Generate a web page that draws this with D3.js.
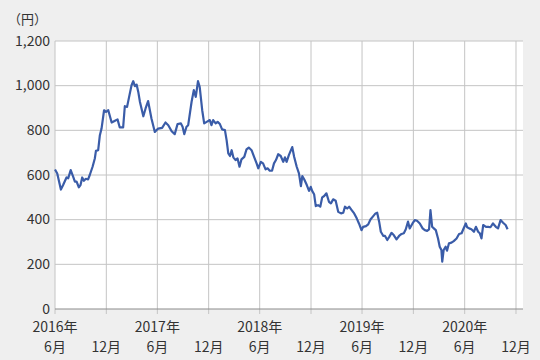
<!DOCTYPE html>
<html>
<head>
<meta charset="utf-8">
<script src="https://cdn.jsdelivr.net/npm/d3@7"></script>
<style>
    body { margin: 0; background: #efefef; }
    svg { display: block; font-family: "Noto Sans CJK JP", "Noto Sans", sans-serif; }
</style>
</head>
<body>
<div id="chart"></div>
<script>
// dates (approx. weekly closes)
var dates = [
    "2016-06-01","2016-06-09","2016-06-22","2016-06-30","2016-07-12","2016-07-18","2016-07-27","2016-08-05",
    "2016-08-11","2016-08-17","2016-08-25","2016-08-31","2016-09-06","2016-09-12","2016-09-19","2016-09-27",
    "2016-10-03","2016-10-13","2016-10-21","2016-10-25","2016-11-02","2016-11-08","2016-11-14","2016-11-23",
    "2016-11-30","2016-12-08","2016-12-20","2017-01-01","2017-01-10","2017-01-18","2017-01-30","2017-02-05",
    "2017-02-13","2017-02-22","2017-03-01","2017-03-07","2017-03-13","2017-03-19","2017-03-25","2017-03-31",
    "2017-04-12","2017-04-20","2017-04-29","2017-05-11","2017-05-23","2017-06-04","2017-06-18","2017-06-30",
    "2017-07-10","2017-07-22","2017-08-02","2017-08-12","2017-08-24","2017-08-30","2017-09-05","2017-09-13",
    "2017-09-19","2017-10-01","2017-10-09","2017-10-16","2017-10-24","2017-10-30","2017-11-08","2017-11-15",
    "2017-11-24","2017-12-05","2017-12-11","2017-12-17","2017-12-26","2018-01-02","2018-01-10","2018-01-18",
    "2018-01-28","2018-02-03","2018-02-09","2018-02-15","2018-02-21","2018-02-27","2018-03-07","2018-03-14",
    "2018-03-21","2018-03-28","2018-04-07","2018-04-15","2018-04-23","2018-05-03","2018-05-12","2018-05-21",
    "2018-05-27","2018-06-05","2018-06-13","2018-06-22","2018-06-29","2018-07-07","2018-07-15","2018-07-22",
    "2018-07-29","2018-08-06","2018-08-15","2018-08-24","2018-08-30","2018-09-05","2018-09-13","2018-09-25",
    "2018-10-02","2018-10-11","2018-10-19","2018-10-26","2018-10-31","2018-11-07","2018-11-16","2018-11-24",
    "2018-11-30","2018-12-05","2018-12-12","2018-12-18","2018-12-26","2019-01-03","2019-01-10","2019-01-17",
    "2019-01-25","2019-02-03","2019-02-10","2019-02-18","2019-02-27","2019-03-08","2019-03-18","2019-03-26",
    "2019-04-01","2019-04-09","2019-04-16","2019-04-25","2019-05-04","2019-05-13","2019-05-21","2019-05-30",
    "2019-06-05","2019-06-15","2019-06-23","2019-07-01","2019-07-11","2019-07-19","2019-07-25","2019-08-01",
    "2019-08-07","2019-08-16","2019-08-22","2019-08-30","2019-09-06","2019-09-14","2019-09-22","2019-10-02",
    "2019-10-11","2019-10-20","2019-10-28","2019-11-04","2019-11-12","2019-11-18","2019-11-28","2019-12-06",
    "2019-12-14","2019-12-24","2020-01-03","2020-01-11","2020-01-19","2020-01-26","2020-01-31","2020-02-06",
    "2020-02-12","2020-02-19","2020-02-27","2020-03-04","2020-03-10","2020-03-13","2020-03-18","2020-03-25",
    "2020-03-30","2020-04-06","2020-04-15","2020-04-23","2020-05-03","2020-05-12","2020-05-21","2020-05-27",
    "2020-06-05","2020-06-10","2020-06-17","2020-06-25","2020-07-04","2020-07-11","2020-07-19","2020-07-25",
    "2020-07-31","2020-08-06","2020-08-16","2020-08-24","2020-09-01","2020-09-10","2020-09-20","2020-09-28",
    "2020-10-07","2020-10-16","2020-10-25","2020-11-01"
];

// price in yen
var prices = [
    625, 607, 535, 555, 589, 585, 622, 592,
    570, 570, 545, 555, 589, 574, 583, 580,
    600, 637, 674, 708, 711, 778, 808, 890,
    883, 890, 835, 843, 849, 813, 813, 908,
    905, 960, 1002, 1020, 998, 1005, 972, 927,
    863, 898, 931, 853, 793, 808, 811, 835,
    823, 796, 783, 828, 831, 816, 783, 816,
    823, 927, 980, 950, 1020, 995, 890, 831,
    838, 846, 823, 846, 831, 838, 828, 804,
    801, 756, 697, 685, 711, 679, 667, 674,
    637, 670, 681, 715, 723, 711, 681, 652,
    630, 659, 652, 625, 630, 619, 619, 652,
    667, 693, 685, 659, 679, 659, 689, 725,
    681, 637, 607, 550, 595, 580, 555, 529,
    547, 529, 514, 461, 465, 458, 500, 506,
    518, 480, 473, 491, 485, 435, 428, 431,
    458, 450, 458, 443, 428, 406, 383, 353,
    368, 371, 379, 401, 416, 428, 431, 391,
    346, 327, 327, 309, 323, 341, 331, 312,
    327, 336, 339, 357, 391, 361, 383, 398,
    395, 383, 361, 353, 350, 357, 443, 368,
    361, 353, 316, 279, 264, 212, 264, 279,
    261, 294, 297, 304, 316, 336, 339, 357,
    383, 366, 361, 357, 346, 368, 346, 339,
    316, 376, 368, 368, 366, 383, 368, 361,
    398, 386, 376, 357
];

var yTicks = [0, 200, 400, 600, 800, 1000, 1200];

var width = 540, height = 360;
var plot = { left: 55, right: 523, top: 41, bottom: 309 };
var parse = d3.timeParse("%Y-%m-%d");

var data = dates.map(function (d, i) {
    return { date: parse(d), value: prices[i] };
});

var svg = d3.select("#chart").append("svg")
    .attr("width", width)
    .attr("height", height);

svg.append("rect")
    .attr("width", width)
    .attr("height", height)
    .attr("fill", "#efefef");

var x = d3.scaleTime()
    .domain([parse("2016-06-01"), parse("2020-12-26")])
    .range([plot.left, plot.right]);

var y = d3.scaleLinear()
    .domain([0, 1200])
    .range([plot.bottom, plot.top]);

// white plot area
svg.append("rect")
    .attr("x", plot.left)
    .attr("y", plot.top)
    .attr("width", plot.right - plot.left)
    .attr("height", plot.bottom - plot.top)
    .attr("fill", "#fff");

// tick every six months (June / December)
var xTicks = d3.timeMonth.range(parse("2016-06-01"), parse("2020-12-02"), 6);

// vertical gridlines, running a bit below the axis as tick marks
svg.append("g")
    .selectAll("line")
    .data(xTicks)
    .enter()
    .append("line")
    .attr("x1", function (d) { return x(d); })
    .attr("x2", function (d) { return x(d); })
    .attr("y1", plot.top)
    .attr("y2", plot.bottom + 5)
    .attr("stroke", "#c4c4c4")
    .attr("stroke-width", 1);

// horizontal gridlines
svg.append("g")
    .selectAll("line")
    .data(yTicks.slice(1))
    .enter()
    .append("line")
    .attr("x1", plot.left)
    .attr("x2", plot.right)
    .attr("y1", function (d) { return y(d); })
    .attr("y2", function (d) { return y(d); })
    .attr("stroke", "#c4c4c4")
    .attr("stroke-width", 1);

// zero line
svg.append("line")
    .attr("x1", plot.left)
    .attr("x2", plot.right)
    .attr("y1", y(0))
    .attr("y2", y(0))
    .attr("stroke", "#8c8c8c")
    .attr("stroke-width", 1.2);

// y labels
svg.append("g")
    .selectAll("text")
    .data(yTicks)
    .enter()
    .append("text")
    .attr("x", plot.left - 5)
    .attr("y", function (d) { return y(d); })
    .attr("dy", "0.34em")
    .attr("text-anchor", "end")
    .attr("font-size", 14)
    .attr("fill", "#333")
    .text(function (d) { return d3.format(",")(d); });

svg.append("text")
    .attr("x", 8)
    .attr("y", 24)
    .attr("font-size", 13)
    .attr("fill", "#333")
    .text("（円）");

// x labels: year on first line for June, month on second line
var xl = svg.append("g")
    .selectAll("g")
    .data(xTicks)
    .enter()
    .append("g")
    .attr("transform", function (d) { return "translate(" + x(d) + ",0)"; });

xl.append("text")
    .attr("y", 332)
    .attr("text-anchor", "middle")
    .attr("font-size", 14)
    .attr("fill", "#333")
    .text(function (d) { return d.getMonth() == 5 ? d.getFullYear() + "年" : ""; });

xl.append("text")
    .attr("y", 352)
    .attr("text-anchor", "middle")
    .attr("font-size", 14)
    .attr("fill", "#333")
    .text(function (d) { return (d.getMonth() + 1) + "月"; });

// price line
var line = d3.line()
    .x(function (d) { return x(d.date); })
    .y(function (d) { return y(d.value); });

svg.append("path")
    .datum(data)
    .attr("d", line)
    .attr("fill", "none")
    .attr("stroke", "#3a5ca8")
    .attr("stroke-width", 2.2)
    .attr("stroke-linejoin", "round");
</script>
</body>
</html>
